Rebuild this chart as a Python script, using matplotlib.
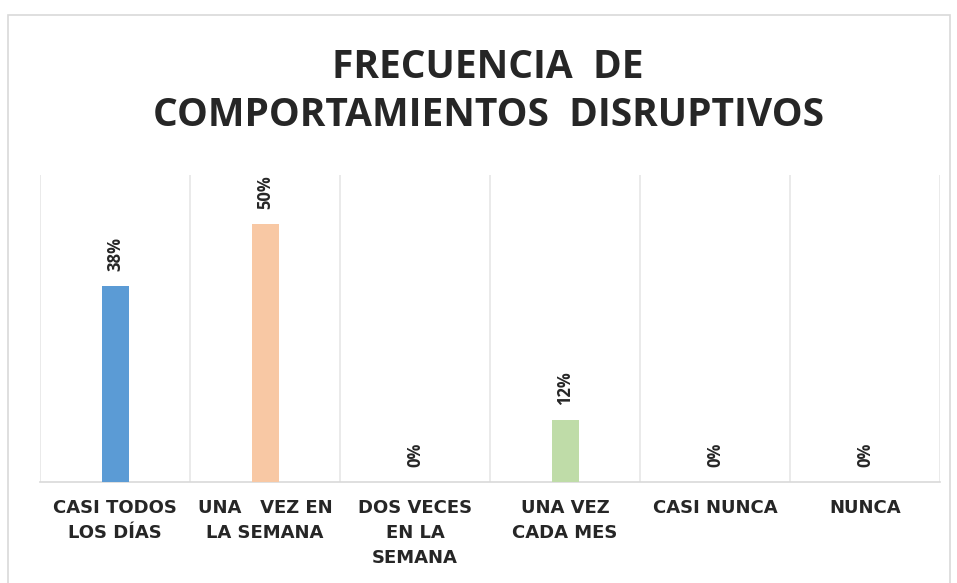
import matplotlib.pyplot as plt
from matplotlib.patches import Rectangle

categories = ["CASI TODOS\nLOS DÍAS", "UNA   VEZ EN\nLA SEMANA", "DOS VECES\nEN LA\nSEMANA",
              "UNA VEZ\nCADA MES", "CASI NUNCA", "NUNCA"]
values = [38, 50, 0, 12, 0, 0]
bar_colors = ["#5B9BD5", "#F8C8A4", "#BFDCA8", "#BFDCA8", "#BFDCA8", "#BFDCA8"]

W, H = 957, 583
fig = plt.figure(figsize=(W / 100, H / 100), dpi=100)
fig.patch.set_facecolor("white")

# outer chart border
fig.patches.append(Rectangle((8 / W, -0.01), 942 / W, 1 - 15 / H + 0.01,
                             transform=fig.transFigure, fill=False,
                             edgecolor="#D9D9D9", linewidth=1.2))

ax = fig.add_axes([40 / W, 1 - 482 / H, 900 / W, 307 / H])
x = list(range(len(categories)))
ax.bar(x, values, width=0.18, color=bar_colors, zorder=3)

for xi, v in zip(x, values):
    ax.annotate(f"{v}%", (xi, v), xytext=(0, 11), textcoords="offset points",
                rotation=90, ha="center", va="bottom", fontsize=12,
                fontweight="bold", family="Open Sans", color="#262626")

ax.set_xlim(-0.5, len(categories) - 0.5)
ax.set_ylim(0, 59.5)
for b in [i - 0.5 for i in range(len(categories) + 1)]:
    ax.axvline(b, color="#E6E6E6", linewidth=1.2, zorder=1)

for s in ["top", "left", "right"]:
    ax.spines[s].set_visible(False)
ax.spines["bottom"].set_color("#D9D9D9")
ax.spines["bottom"].set_linewidth(1.2)
ax.set_yticks([])
ax.set_xticks(x)
ax.set_xticklabels(categories, fontsize=13, fontweight="bold", family="DejaVu Sans",
                   color="#262626", linespacing=1.5)
ax.tick_params(axis="x", length=0, pad=12)

fig.text(488 / W, 1 - 68 / H, "FRECUENCIA  DE", ha="center", va="center",
         fontsize=28, fontweight="bold", family="Open Sans", color="#262626")
fig.text(488 / W, 1 - 115 / H, "COMPORTAMIENTOS  DISRUPTIVOS", ha="center", va="center",
         fontsize=28, fontweight="bold", family="Open Sans", color="#262626")

fig.savefig("out.png", dpi=100)
